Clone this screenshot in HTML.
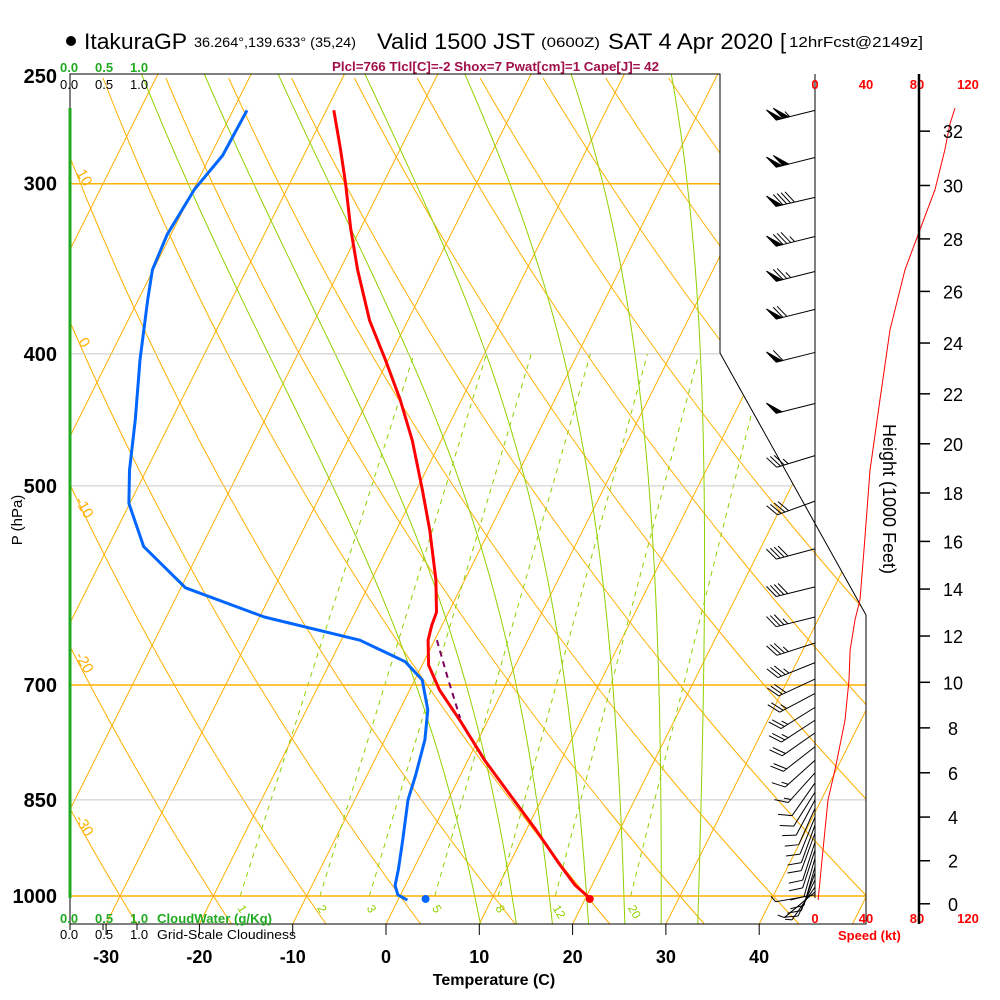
<!DOCTYPE html>
<html><head><meta charset="utf-8"><style>
html,body{margin:0;padding:0;background:#fff;}
svg{display:block;font-family:"Liberation Sans",Arial,sans-serif;}
</style></head>
<body>
<svg id="chart" xmlns="http://www.w3.org/2000/svg" width="1000" height="1000" viewBox="0 0 1000 1000">
<defs><clipPath id="plotclip"><path d="M70,74 L720,74 L720,353 L866,615 L866,924 L70,924 Z"/></clipPath></defs>
<g id="bg" clip-path="url(#plotclip)"></g>
<g id="fg"></g>
<g id="barbs"></g>
<g id="txt">
<circle cx="71" cy="41" r="5" fill="#000"/>
<text x="84" y="49" font-size="22" textLength="103" lengthAdjust="spacingAndGlyphs">ItakuraGP</text>
<text x="194" y="47" font-size="14" textLength="162" lengthAdjust="spacingAndGlyphs">36.264°,139.633° (35,24)</text>
<text x="377" y="49" font-size="22" textLength="158" lengthAdjust="spacingAndGlyphs">Valid 1500 JST</text>
<text x="541" y="47" font-size="14" textLength="59" lengthAdjust="spacingAndGlyphs">(0600Z)</text>
<text x="608" y="49" font-size="22" textLength="165" lengthAdjust="spacingAndGlyphs">SAT 4 Apr 2020</text>
<text x="780" y="49" font-size="22">[</text>
<text x="789" y="47" font-size="15" textLength="134" lengthAdjust="spacingAndGlyphs">12hrFcst@2149z]</text>
<text x="332" y="71" font-size="13" font-weight="bold" fill="#a0104a" textLength="327" lengthAdjust="spacingAndGlyphs">Plcl=766 Tlcl[C]=-2 Shox=7 Pwat[cm]=1 Cape[J]= 42</text>
<g font-size="13" font-weight="bold" fill="#22aa22">
<text x="60" y="72">0.0</text><text x="95" y="72">0.5</text><text x="130" y="72">1.0</text></g>
<g font-size="13" fill="#000">
<text x="60" y="89">0.0</text><text x="95" y="89">0.5</text><text x="130" y="89">1.0</text></g>
<g font-size="13" font-weight="bold" fill="#22aa22">
<text x="60" y="923">0.0</text><text x="95" y="923">0.5</text><text x="130" y="923">1.0</text>
<text x="157" y="923" textLength="115" lengthAdjust="spacingAndGlyphs">CloudWater (g/Kg)</text></g>
<g font-size="13" fill="#000">
<text x="60" y="939">0.0</text><text x="95" y="939">0.5</text><text x="130" y="939">1.0</text>
<text x="157" y="939" textLength="139" lengthAdjust="spacingAndGlyphs">Grid-Scale Cloudiness</text></g>
<text x="494" y="985" font-size="16" font-weight="bold" text-anchor="middle">Temperature (C)</text>
<text transform="translate(22,520) rotate(-90)" font-size="15" text-anchor="middle">P (hPa)</text>
<text transform="translate(883,499) rotate(90)" font-size="18" text-anchor="middle">Height (1000 Feet)</text>
<text x="838" y="940" font-size="13" font-weight="bold" fill="#ff0000">Speed (kt)</text>
</g>
</svg>
<script>
// ---- data ----
const pressTicks = [250, 300, 400, 500, 700, 850, 1000];
const tempTicks = [-30, -20, -10, 0, 10, 20, 30, 40];
const tempP = [265, 283, 300, 324, 347, 378, 404, 432, 463, 503, 539, 586, 619, 633, 649, 677, 706, 743, 795, 843, 894, 949, 982, 1005];
const tempC = [-49.2, -46.4, -44.0, -41.0, -38.1, -34.1, -30.3, -26.6, -23.1, -19.4, -16.4, -13.1, -11.3, -11.1, -10.7, -9.3, -6.8, -3.0, 1.8, 6.4, 11.0, 15.5, 18.2, 20.6];
const dewP = [265, 286, 303, 327, 347, 365, 404, 447, 487, 515, 554, 594, 624, 649, 673, 694, 730, 768, 815, 850, 910, 956, 982, 998, 1007];
const dewC = [-58.5, -58.7, -59.9, -60.4, -60.1, -59.0, -56.6, -53.9, -51.8, -50.1, -46.2, -39.5, -29.5, -18.0, -12.0, -9.2, -7.0, -5.7, -4.8, -4.3, -2.7, -1.6, -1.1, -0.3, 1.0];
const parcelP = [649, 694, 740];
const parcelC = [-9.75, -6.4, -3.1];
const sfcP = 1005;
const sfcT = 20.5;
const sfcTd = 2.9;
const windP = [265, 287, 307, 328, 348, 371, 399, 435, 475, 513, 556, 593, 624, 652, 674, 693, 710, 727, 743, 759, 777, 795, 812, 826, 839, 850, 862, 875, 887, 899, 913, 925, 938, 952, 962, 973, 985, 993, 998];
const windKt = [105, 100, 90, 85, 75, 70, 60, 50, 35, 40, 40, 40, 35, 35, 35, 30, 25, 25, 25, 20, 20, 15, 15, 10, 10, 10, 10, 10, 10, 10, 10, 10, 10, 10, 10, 10, 5, 5, 5];
const windDip = [14, 14, 13, 14, 14, 14, 14, 14, 17, 20, 15, 14, 14, 18, 22, 25, 28, 32, 33, 35, 38, 42, 48, 55, 58, 62, 66, 68, 70, 70, 72, 72, 74, 74, 70, 65, 55, 40, 10];
const speedP = [264, 271, 283, 303, 324, 347, 384, 432, 487, 557, 606, 627, 660, 694, 743, 808, 850, 941, 1007];
const speedKt = [109.8, 105.9, 102, 94.1, 82.4, 70.6, 58.8, 51, 43.1, 38.4, 35.3, 31.4, 27.5, 26.7, 23.5, 15.7, 10.2, 5.5, 2.4];
const speedTicks = [0, 40, 80, 120];
const heightTicks = [0, 2, 4, 6, 8, 10, 12, 14, 16, 18, 20, 22, 24, 26, 28, 30, 32];
const mixRatios = [1, 2, 3, 5, 8, 12, 20];
const dryThetas = [-60,-50,-40,-30,-20,-10,0,10,20,30,40,50,60,70,80,90,100,110,120,130,140,150,160,170,180];
const moistThetas = [8,12,16,20,24,28,32];
const isotherms = [-140,-130,-120,-110,-100,-90,-80,-70,-60,-50,-40,-30,-20,-10,0,10,20,30,40,50];

// ---- axes ----
const NS = "http://www.w3.org/2000/svg";
function Y(p){ return 896 - 591.6*Math.log(1000/p); }
function X(T,p){ return 400 + 9.33*T + 0.5*(896 - Y(p)); }
function XY(T,y){ return 400 + 9.33*T + 0.5*(896 - y); }
function SX(s){ return 815 + 1.275*s; }
function pFromY(y){ return 1000*Math.exp(-(896-y)/591.6); }
function mk(tag, attrs, parent){ const e=document.createElementNS(NS,tag); for(const k in attrs) e.setAttribute(k,attrs[k]); parent.appendChild(e); return e; }
const bg=document.getElementById('bg'), fg=document.getElementById('fg'), bb=document.getElementById('barbs'), tx=document.getElementById('txt');
const ORANGE="#ffb000", GREEN="#90d000";

isotherms.forEach(T=>{
  const l=mk('line',{x1:XY(T,924),y1:924,x2:XY(T,74),y2:74,stroke:ORANGE,'stroke-width':1},bg);
  
  
});
dryThetas.forEach(th=>{
  let d='';
  for(let y=924;y>=74;y-=6){ const p=pFromY(y); const T=(th+273.15)*Math.pow(p/1000,0.2857)-273.15; d+=(d?'L':'M')+XY(T,y).toFixed(1)+','+y; }
  const l=mk('path',{d:d,fill:'none',stroke:ORANGE,'stroke-width':1},bg);
  
  
});
function es(Tc){ return 6.112*Math.exp(17.67*Tc/(Tc+243.5)); }
function dTdp(Tc,p){ const T=Tc+273.15; const e=es(Tc); const rs=0.622*e/(p-e); const L=2.5e6;
  return (287*T + L*rs)/(1004 + L*L*rs*0.622/(287*T*T))/p; }
moistThetas.forEach(tw=>{
  let pts=[]; let T=tw;
  for(let p=1000;p<=1060;p+=5){ pts.unshift([X(T,p),Y(p)]); T+=dTdp(T,p)*5; }
  T=tw;
  for(let p=1000;p>=240;p-=2){ if(p<1000) pts.push([X(T,p),Y(p)]); T-=dTdp(T,p)*2; }
  const l=mk('path',{d:'M'+pts.map(q=>q[0].toFixed(1)+','+q[1].toFixed(1)).join('L'),fill:'none',stroke:GREEN,'stroke-width':1},bg);
  
  
});
function tdFromW(w,p){ const e=w*p/(622+w); const a=Math.log(e/6.112); return 243.5*a/(17.67-a); }
mixRatios.forEach(w=>{
  const l=mk('line',{x1:X(tdFromW(w,1000),1000),y1:Y(1000),x2:X(tdFromW(w,400),400),y2:Y(400),stroke:GREEN,'stroke-width':1,'stroke-dasharray':'5,5'},bg);
  
  
  const t=mk('text',{transform:'translate('+(X(tdFromW(w,1000),1000)-3)+',908) rotate(60)','font-size':12,fill:GREEN},bg);
  t.textContent=w;
  
  
});
pressTicks.forEach(p=>{
  if(p===250) return;
  const orange=(p===300||p===700||p===1000);
  const l=mk('line',{x1:70,y1:Y(p),x2:866,y2:Y(p),stroke:orange?ORANGE:'#c8c8c8','stroke-width':orange?1.5:1},bg);
  
  
});
[['10',80,180],['0',80,345],['-10',80,510],['-20',80,665],['-30',80,828],['0',733,243],['10',757,378],['20',803,467],['30',852,555]].forEach(a=>{
  const t=mk('text',{transform:'translate('+a[1]+','+a[2]+') rotate(60)','font-size':15,fill:ORANGE,'text-anchor':'middle'},bg);
  t.textContent=a[0];
  
  
});

const fr=mk('path',{d:'M70,74 L720,74 L720,353 L866,615 L866,924 L70,924 Z',fill:'none',stroke:'#000','stroke-width':1},fg);


const gl=mk('line',{x1:70,y1:108,x2:70,y2:898,stroke:'#22aa22','stroke-width':3},fg);


tempTicks.forEach(T=>{
  const x=XY(T,924);
  const l=mk('line',{x1:x,y1:924,x2:x,y2:935,stroke:'#000'},fg);
  
  
  const t=mk('text',{x:x,y:963,'font-size':18,'font-weight':'bold','text-anchor':'middle'},fg);
  t.textContent=T;
  
  
});
[70,103,137].forEach(x=>{
  const l=mk('line',{x1:x,y1:924,x2:x,y2:930,stroke:'#000'},fg);
  
  
});
pressTicks.forEach(p=>{
  const t=mk('text',{x:57,y:Y(p)+7,'font-size':20,'font-weight':'bold','text-anchor':'end'},fg);
  t.textContent=p;
  
  
});
function poly(ps,ts){ return ps.map((p,i)=>X(ts[i],p).toFixed(1)+','+Y(p).toFixed(1)).join(' '); }
const tl=mk('polyline',{points:poly(tempP,tempC),fill:'none',stroke:'#ff0000','stroke-width':3,'stroke-linejoin':'round'},fg);


const dl=mk('polyline',{points:poly(dewP,dewC),fill:'none',stroke:'#0066ff','stroke-width':3,'stroke-linejoin':'round'},fg);


const pl=mk('polyline',{points:poly(parcelP,parcelC),fill:'none',stroke:'#800060','stroke-width':2,'stroke-dasharray':'6,5'},fg);


const sd=mk('circle',{cx:X(sfcT,sfcP),cy:Y(sfcP),r:4,fill:'#ff0000'},fg);


const sdd=mk('circle',{cx:X(sfcTd,sfcP),cy:Y(sfcP),r:4,fill:'#0066ff'},fg);



const sa=mk('line',{x1:815,y1:74,x2:815,y2:Y(1000)+2,stroke:'#000','stroke-width':1},fg);


speedTicks.forEach(s=>{
  [89,923].forEach(yy=>{
    const t=mk('text',{x:SX(s),y:yy,'font-size':13,'font-weight':'bold',fill:'#ff0000','text-anchor':'middle'},fg);
    t.textContent=s;
    
    
  });
});
const sl=mk('polyline',{points:speedP.map((p,i)=>SX(speedKt[i]).toFixed(1)+','+Y(p).toFixed(1)).join(' '),fill:'none',stroke:'#ff0000','stroke-width':1},fg);


const ha=mk('line',{x1:919,y1:74,x2:919,y2:924,stroke:'#000','stroke-width':2.5},fg);


heightTicks.forEach(h=>{
  const p=1013.25*Math.pow(1-6.8756e-6*h*1000,5.2559);
  const y=Y(p);
  const l=mk('line',{x1:919,y1:y,x2:930,y2:y,stroke:'#000','stroke-width':1.5},fg);
  
  
  const t=mk('text',{x:953,y:y+7,'font-size':18,'text-anchor':'middle'},fg);
  t.textContent=h;
  
  
});
windP.forEach((p,i)=>{
  const y=Y(p), a=windDip[i]*Math.PI/180, L=40;
  const ux=-Math.cos(a), uy=Math.sin(a), nx=-Math.sin(a), ny=-Math.cos(a);
  const dx=nx*0.87+ux*0.5, dy=ny*0.87+uy*0.5;
  const ex=815+L*ux, ey=y+L*uy;
  const g=mk('g',{stroke:'#000','stroke-width':1,fill:'#000'},bb);
  
  
  mk('line',{x1:815,y1:y,x2:ex,y2:ey},g);
  let s=Math.round(windKt[i]/5)*5, px=ex, py=ey;
  while(s>=50){ mk('polygon',{points:px+','+py+' '+(px+dx*14)+','+(py+dy*14)+' '+(px-ux*6)+','+(py-uy*6)},g); px-=ux*7; py-=uy*7; s-=50; }
  while(s>=10){ mk('line',{x1:px,y1:py,x2:px+dx*14,y2:py+dy*14},g); px-=ux*4; py-=uy*4; s-=10; }
  if(s>=5){ mk('line',{x1:px,y1:py,x2:px+dx*7,y2:py+dy*7},g); }
});
</script>
</body></html>
